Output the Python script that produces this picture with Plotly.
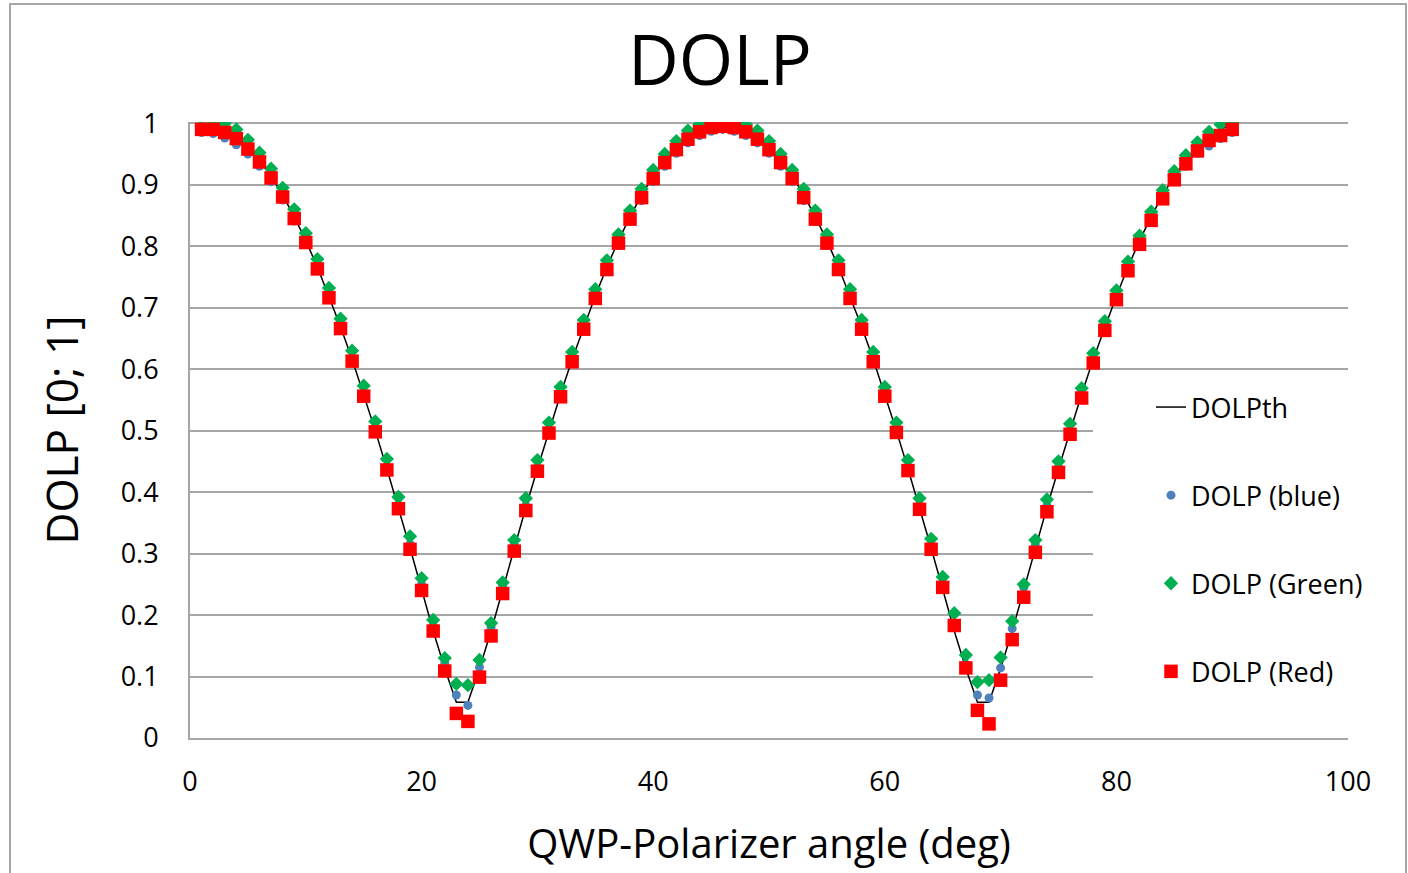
import plotly.graph_objects as go

# ---------------- data ----------------
angle_deg = list(range(1, 91))

dolp_th = [1.000, 0.998, 0.990, 0.978, 0.961, 0.940, 0.914, 0.883, 0.848, 0.809,
           0.766, 0.719, 0.669, 0.616, 0.559, 0.500, 0.438, 0.375, 0.309, 0.242,
           0.174, 0.113, 0.058, 0.058, 0.113, 0.174, 0.242, 0.309, 0.375, 0.438,
           0.500, 0.559, 0.616, 0.669, 0.719, 0.766, 0.809, 0.848, 0.883, 0.914,
           0.940, 0.961, 0.978, 0.990, 0.998, 1.000, 0.998, 0.990, 0.978, 0.961,
           0.940, 0.914, 0.883, 0.848, 0.809, 0.766, 0.719, 0.669, 0.616, 0.559,
           0.500, 0.438, 0.375, 0.309, 0.242, 0.174, 0.113, 0.058, 0.058, 0.113,
           0.174, 0.242, 0.309, 0.375, 0.438, 0.500, 0.559, 0.616, 0.669, 0.719,
           0.766, 0.809, 0.848, 0.883, 0.914, 0.940, 0.961, 0.978, 0.990, 0.998]

dolp_blue = [0.985, 0.983, 0.976, 0.965, 0.950, 0.930, 0.905, 0.875, 0.841, 0.803,
             0.761, 0.715, 0.667, 0.615, 0.559, 0.502, 0.441, 0.379, 0.315, 0.250,
             0.183, 0.122, 0.070, 0.053, 0.115, 0.180, 0.248, 0.314, 0.378, 0.440,
             0.500, 0.557, 0.613, 0.665, 0.713, 0.759, 0.801, 0.840, 0.874, 0.905,
             0.930, 0.951, 0.968, 0.980, 0.987, 0.990, 0.987, 0.980, 0.968, 0.951,
             0.930, 0.905, 0.874, 0.840, 0.801, 0.759, 0.713, 0.665, 0.613, 0.557,
             0.500, 0.440, 0.378, 0.314, 0.250, 0.185, 0.120, 0.070, 0.065, 0.114,
             0.178, 0.245, 0.314, 0.378, 0.440, 0.500, 0.557, 0.613, 0.665, 0.713,
             0.759, 0.801, 0.840, 0.874, 0.905, 0.930, 0.951, 0.963, 0.975, 0.985]

dolp_green = [0.995, 0.998, 1.000, 0.990, 0.973, 0.952, 0.926, 0.895, 0.860, 0.821,
              0.779, 0.732, 0.682, 0.630, 0.573, 0.515, 0.454, 0.392, 0.328, 0.260,
              0.192, 0.130, 0.088, 0.086, 0.127, 0.187, 0.253, 0.322, 0.390, 0.452,
              0.513, 0.571, 0.628, 0.680, 0.730, 0.777, 0.819, 0.858, 0.893, 0.924,
              0.950, 0.971, 0.988, 0.998, 1.000, 1.000, 1.000, 0.998, 0.988, 0.971,
              0.950, 0.924, 0.893, 0.858, 0.819, 0.777, 0.730, 0.680, 0.628, 0.571,
              0.513, 0.452, 0.390, 0.324, 0.262, 0.203, 0.135, 0.091, 0.094, 0.131,
              0.190, 0.250, 0.322, 0.388, 0.450, 0.511, 0.569, 0.626, 0.678, 0.728,
              0.775, 0.817, 0.856, 0.891, 0.922, 0.948, 0.969, 0.986, 0.998, 1.000]

dolp_red = [0.990, 0.990, 0.985, 0.975, 0.958, 0.937, 0.911, 0.880, 0.845, 0.806,
            0.763, 0.716, 0.666, 0.613, 0.556, 0.498, 0.436, 0.373, 0.307, 0.240,
            0.174, 0.109, 0.040, 0.027, 0.099, 0.166, 0.235, 0.304, 0.370, 0.434,
            0.496, 0.555, 0.612, 0.665, 0.715, 0.762, 0.805, 0.844, 0.879, 0.910,
            0.936, 0.957, 0.974, 0.986, 0.993, 0.995, 0.993, 0.986, 0.974, 0.957,
            0.936, 0.910, 0.879, 0.844, 0.805, 0.762, 0.715, 0.665, 0.612, 0.556,
            0.497, 0.435, 0.372, 0.307, 0.245, 0.183, 0.114, 0.045, 0.023, 0.094,
            0.160, 0.229, 0.302, 0.368, 0.432, 0.494, 0.553, 0.610, 0.663, 0.713,
            0.760, 0.803, 0.842, 0.877, 0.908, 0.934, 0.955, 0.972, 0.980, 0.990]

series_names = ["DOLPth", "DOLP (blue)", "DOLP (Green)", "DOLP (Red)"]
x_ticks = [0, 20, 40, 60, 80, 100]
y_ticks = [0, 0.1, 0.2, 0.3, 0.4, 0.5, 0.6, 0.7, 0.8, 0.9, 1]
y_tick_text = ["0", "0.1", "0.2", "0.3", "0.4", "0.5", "0.6", "0.7", "0.8", "0.9", "1"]

# ---------------- figure ----------------
FONT = "Open Sans"
GRID = "#A6A6A6"
# plot area in page pixels (body margin removed): x 190..1348, y 122..738
PX0, PX1, PY0, PY1 = 190, 1348, 122, 738
PW, PH = PX1 - PX0, PY1 - PY0

fig = go.Figure()
fig.add_trace(go.Scatter(x=angle_deg, y=dolp_th, mode="lines", name=series_names[0],
                         legendgroup="g0", line=dict(color="black", width=1.5)))
fig.add_trace(go.Scatter(x=angle_deg, y=dolp_blue, mode="markers", name=series_names[1],
                         legendgroup="g1",
                         marker=dict(symbol="circle", size=9, color="#4F81BD")))
fig.add_trace(go.Scatter(x=angle_deg, y=dolp_green, mode="markers", name=series_names[2],
                         legendgroup="g2",
                         marker=dict(symbol="diamond", size=11, color="#00B050")))
fig.add_trace(go.Scatter(x=angle_deg, y=dolp_red, mode="markers", name=series_names[3],
                         legendgroup="g3",
                         marker=dict(symbol="square", size=13.5, color="#FF0000")))

fig.update_layout(
    width=1408, height=873,
    margin=dict(l=PX0, r=1408 - PX1, t=PY0, b=873 - PY1, autoexpand=False),
    paper_bgcolor="white", plot_bgcolor="white",
    font=dict(family=FONT, color="black"),
    title=dict(text="DOLP", font=dict(family=FONT, size=70, color="black"),
               x=720 / 1408, xref="container", xanchor="center",
               y=1 - 60 / 873, yref="container", yanchor="middle"),
    showlegend=True,
    legend=dict(x=(1093 - PX0) / PW, xanchor="left",
                y=(PY1 - 383) / PH, yanchor="top",
                bgcolor="white", borderwidth=0,
                font=dict(family=FONT, size=27, color="black"),
                traceorder="grouped", tracegroupgap=50, indentation=58),
    xaxis=dict(range=[0, 100], tickvals=x_ticks, showgrid=False, zeroline=False,
               showline=True, linecolor=GRID, linewidth=2,
               tickfont=dict(family=FONT, size=27, color="black"),
               ticklabelstandoff=19,
               title=dict(text="QWP-Polarizer angle (deg)",
                          font=dict(family=FONT, size=40, color="black"),
                          standoff=32)),
    yaxis=dict(range=[0, 1.002], tickvals=y_ticks, ticktext=y_tick_text,
               showgrid=True, gridcolor=GRID, gridwidth=2, zeroline=False,
               showline=True, linecolor=GRID, linewidth=2,
               tickfont=dict(family=FONT, size=27, color="black"),
               ticklabelstandoff=24,
               title=dict(text="DOLP [0; 1]",
                          font=dict(family=FONT, size=44, color="black"),
                          standoff=28)),
)

# outer chart-area border
fig.add_shape(type="rect", xref="paper", yref="paper",
              x0=(10 - PX0) / PW, x1=(1406 - PX0) / PW,
              y0=(PY1 - 890) / PH, y1=(PY1 - 4) / PH,
              line=dict(color=GRID, width=2), fillcolor="rgba(0,0,0,0)", layer="below")

fig.write_html("out.html", config={"displayModeBar": False},
               post_script="document.body.style.margin='0';document.body.style.overflow='hidden';")
